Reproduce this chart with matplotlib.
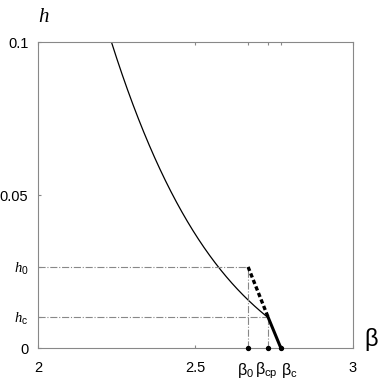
import numpy as np
import matplotlib
matplotlib.use("Agg")
import matplotlib.pyplot as plt
from matplotlib.transforms import ScaledTranslation

plt.rcParams['font.family'] = ['Liberation Sans', 'DejaVu Sans']
plt.rcParams['mathtext.fontset'] = 'custom'
plt.rcParams['mathtext.rm'] = 'Liberation Sans'
plt.rcParams['mathtext.it'] = 'Liberation Serif:italic'

# curve
beta_curve = [2.234, 2.303, 2.366, 2.451, 2.514, 2.578, 2.663, 2.730]
h_curve = [0.100, 0.0789, 0.0625, 0.0462, 0.0353, 0.0255, 0.0157, 0.0102]

beta_0 = 2.667
beta_cp = 2.730
beta_c = 2.771
h_0 = 0.0265
h_c = 0.0102

xtick_vals = [2, 2.5, beta_0, beta_cp, beta_c, 3]
xtick_labels = ['2', '2.5', r'β$_\mathrm{0}$', r'β$_\mathrm{cp}$', r'β$_\mathrm{c}$', '3']
ytick_vals = [0, h_c, h_0, 0.05, 0.1]
ytick_labels = ['0', r'$h_\mathrm{c}$', r'$h_\mathrm{0}$', '0.05', '0.1']

fig = plt.figure(figsize=(3.82, 3.82), dpi=100)
ax = fig.add_axes([0.0995, 0.089, 0.8245, 0.801])

# smooth the curve through the read points
t = np.linspace(0, 1, len(beta_curve))
tt = np.linspace(0, 1, 200)
coef_b = np.polyfit(t, beta_curve, 3)
coef_h = np.polyfit(t, h_curve, 3)
ax.plot(np.polyval(coef_b, tt), np.polyval(coef_h, tt), color='black', lw=0.9)

# guide lines
gray = '#888888'
ax.plot([2, beta_0], [h_0, h_0], color=gray, lw=0.8, ls='-.')
ax.plot([2, beta_cp], [h_c, h_c], color=gray, lw=0.8, ls='-.')
ax.plot([beta_0, beta_0], [0, h_0], color=gray, lw=0.8, ls='-.')
ax.plot([beta_cp, beta_cp], [0, h_c], color=gray, lw=0.8, ls='-.')

ax.plot([beta_0, beta_cp], [h_0, h_c], color='black', lw=2.4, ls=(0, (1.3, 0.8)))
ax.plot([beta_cp, beta_c], [h_c, 0], color='black', lw=2.2)

ax.scatter([beta_0, beta_cp, beta_c], [0, 0, 0], s=8, color='black', clip_on=False, zorder=5)

ax.set_xlim(2, 3)
ax.set_ylim(0, 0.1)
ax.set_xticks(xtick_vals)
ax.set_xticklabels(xtick_labels, fontsize=10.5)
ax.set_yticks(ytick_vals)
ax.set_yticklabels(ytick_labels, fontsize=10.5)
ax.tick_params(axis='x', length=2, direction='in', color=gray, pad=9.5, top=True)
ax.tick_params(axis='y', length=2, direction='in', color=gray, pad=7)

# nudge the crowded beta labels apart, as in the original
shifts = {2: -3, 3: -2, 4: 8}
for i, lab in enumerate(ax.get_xticklabels()):
    if i in (2, 3, 4):
        lab.set_fontsize(11.5)
        lab.set_transform(lab.get_transform() + ScaledTranslation(shifts[i] / 100, 0, fig.dpi_scale_trans))
for s in ax.spines.values():
    s.set_color(gray)
    s.set_linewidth(0.8)

fig.text(0.113, 0.955, 'h', fontsize=15, family='Liberation Serif', style='italic',
         ha='center', va='center')
fig.text(0.972, 0.11, 'β', fontsize=17, ha='center', va='center')

plt.savefig('out.png', dpi=100)
